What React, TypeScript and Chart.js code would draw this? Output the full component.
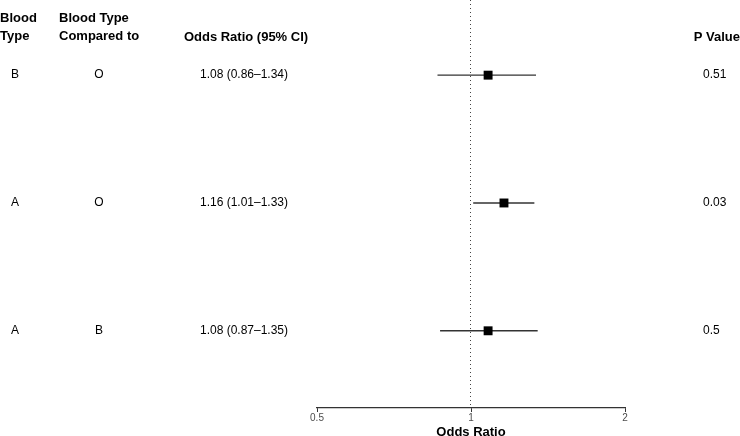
import React, { useEffect, useRef } from "react";
import { Chart, registerables } from "chart.js";

Chart.register(...registerables);

const bloodType = ["B", "A", "A"];
const comparedTo = ["O", "O", "B"];
const oddsRatio = [1.08, 1.16, 1.08];
const ciLower = [0.86, 1.01, 0.87];
const ciUpper = [1.34, 1.33, 1.35];
const pValues = ["0.51", "0.03", "0.5"];
const rowPos = [3, 2, 1];
const xTicks = [0.5, 1, 2];

const FONT = '"Liberation Sans", Arial, Helvetica, sans-serif';

const tablePlugin = {
  id: "forestTable",
  beforeDatasetsDraw(chart: any) {
    const { ctx, chartArea, scales } = chart;
    const x1 = Math.round(scales.x.getPixelForValue(1)) - 0.5;
    ctx.save();
    ctx.strokeStyle = "#444";
    ctx.lineWidth = 1;
    ctx.setLineDash([1, 3]);
    ctx.beginPath();
    ctx.moveTo(x1, 0);
    ctx.lineTo(x1, chartArea.bottom);
    ctx.stroke();
    ctx.restore();
  },
  afterDraw(chart: any) {
    const { ctx, scales } = chart;
    ctx.save();
    ctx.fillStyle = "#000";
    ctx.textBaseline = "middle";
    ctx.font = `bold 13px ${FONT}`;
    ctx.textAlign = "left";
    ctx.fillText("Blood", 0, 18);
    ctx.fillText("Type", 0, 36);
    ctx.fillText("Blood Type", 59, 18);
    ctx.fillText("Compared to", 59, 36);
    ctx.textAlign = "center";
    ctx.fillText("Odds Ratio (95% CI)", 246, 37);
    ctx.textAlign = "right";
    ctx.fillText("P Value", 740, 37);

    ctx.font = `12px ${FONT}`;
    rowPos.forEach((r, i) => {
      const y = scales.y.getPixelForValue(r);
      ctx.textAlign = "center";
      ctx.fillText(bloodType[i], 15, y);
      ctx.fillText(comparedTo[i], 99, y);
      ctx.fillText(
        `${oddsRatio[i].toFixed(2)} (${ciLower[i].toFixed(2)}\u2013${ciUpper[i].toFixed(2)})`,
        244,
        y
      );
      ctx.textAlign = "left";
      ctx.fillText(pValues[i], 703, y);
    });
    ctx.restore();
  },
};

export default function App() {
  const canvasRef = useRef<HTMLCanvasElement | null>(null);

  useEffect(() => {
    if (!canvasRef.current) return;
    const ciSets = rowPos.map((r, i) => ({
      type: "line" as const,
      data: [
        { x: ciLower[i], y: r },
        { x: ciUpper[i], y: r },
      ],
      borderColor: "#333",
      borderWidth: 1.4,
      pointRadius: 0,
      order: 2,
    }));
    const chart = new Chart(canvasRef.current, {
      type: "scatter",
      data: {
        datasets: [
          {
            data: rowPos.map((r, i) => ({ x: oddsRatio[i], y: r })),
            pointStyle: "rect",
            pointRadius: 6.3,
            backgroundColor: "#000",
            borderColor: "#000",
            borderWidth: 0,
            order: 1,
          } as any,
          ...ciSets,
        ],
      },
      options: {
        animation: false,
        responsive: true,
        maintainAspectRatio: false,
        layout: { autoPadding: false, padding: { left: 317, right: 115, top: 0, bottom: -3 } },
        plugins: { legend: { display: false }, tooltip: { enabled: false } },
        scales: {
          x: {
            type: "logarithmic",
            min: 0.5,
            max: 2,
            afterBuildTicks: (scale: any) => {
              scale.ticks = xTicks.map((v) => ({ value: v }));
            },
            border: { display: true, color: "#333", width: 1.2 },
            grid: {
              display: true,
              drawOnChartArea: false,
              drawTicks: true,
              tickLength: 4,
              color: "#333",
            },
            ticks: {
              autoSkip: false,
              maxRotation: 0,
              padding: 1,
              color: "#4d4d4d",
              font: { family: FONT, size: 10, lineHeight: 1.1 },
              callback: (v: any) => String(v),
            },
            title: {
              display: true,
              text: "Odds Ratio",
              color: "#000",
              font: { family: FONT, size: 13, weight: "bold", lineHeight: 1 },
              padding: { top: 1, bottom: 0 },
            },
          },
          y: {
            type: "linear",
            display: false,
            min: 0.396,
            max: 3.588,
          },
        },
      },
      plugins: [tablePlugin],
    } as any);
    return () => chart.destroy();
  }, []);

  return (
    <div style={{ position: "fixed", left: 0, top: 0, width: 740, height: 436 }}>
      <canvas ref={canvasRef} />
    </div>
  );
}
